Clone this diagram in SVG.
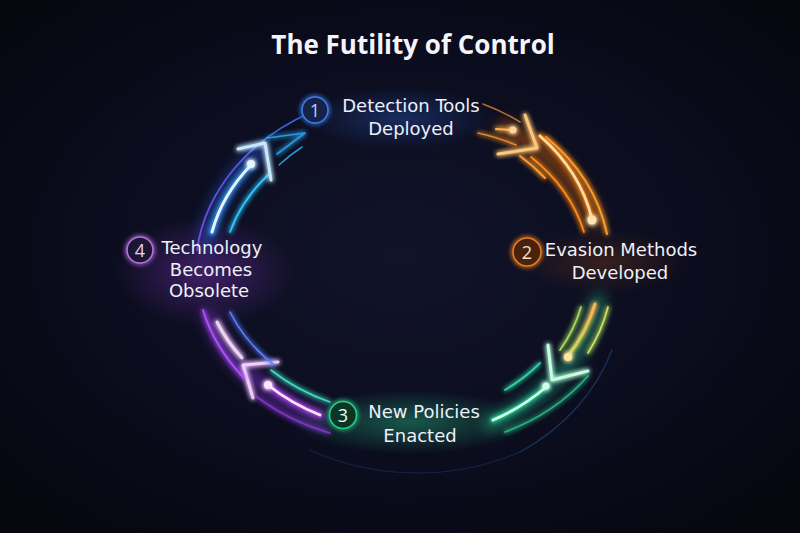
<svg xmlns="http://www.w3.org/2000/svg" width="800" height="533" viewBox="0 0 800 533">
<defs>
<radialGradient id="bg" cx="50%" cy="48%" r="65%">
<stop offset="0" stop-color="#11132a"/><stop offset="0.6" stop-color="#0b0c1d"/><stop offset="1" stop-color="#06070f"/>
</radialGradient>
<radialGradient id="gPurple"><stop offset="0" stop-color="#6a2ea0" stop-opacity="0.55"/><stop offset="1" stop-color="#6a2ea0" stop-opacity="0"/></radialGradient>
<radialGradient id="gGreen"><stop offset="0" stop-color="#1f8a66" stop-opacity="0.6"/><stop offset="1" stop-color="#1f8a66" stop-opacity="0"/></radialGradient>
<radialGradient id="gBlue"><stop offset="0" stop-color="#2450a8" stop-opacity="0.45"/><stop offset="1" stop-color="#2450a8" stop-opacity="0"/></radialGradient>
<radialGradient id="gOrange"><stop offset="0" stop-color="#6a3418" stop-opacity="0.45"/><stop offset="1" stop-color="#6a3418" stop-opacity="0"/></radialGradient>
<linearGradient id="blueOuter" gradientUnits="userSpaceOnUse" x1="197" y1="250" x2="312" y2="112"><stop offset="0" stop-color="#9a4cff"/><stop offset="1" stop-color="#3a7bff"/></linearGradient>
<linearGradient id="yg" gradientUnits="userSpaceOnUse" x1="595" y1="300" x2="560" y2="360"><stop offset="0" stop-color="#ffb050"/><stop offset="1" stop-color="#b8e060"/></linearGradient>
<filter id="glow" filterUnits="userSpaceOnUse" x="0" y="0" width="800" height="533">
<feGaussianBlur in="SourceGraphic" stdDeviation="2.5" result="b"/>
<feMerge><feMergeNode in="b"/><feMergeNode in="b"/><feMergeNode in="SourceGraphic"/></feMerge>
</filter>
<filter id="soft" filterUnits="userSpaceOnUse" x="0" y="0" width="800" height="533">
<feGaussianBlur stdDeviation="7"/>
</filter>
<style>
.ln{fill:none;stroke-linecap:round;stroke-linejoin:round}
.halo{fill:none;stroke-linecap:round;stroke-width:14;opacity:0.45;filter:url(#soft)}
.lbl{font-family:"DejaVu Sans","Liberation Sans",sans-serif;font-size:18px;fill:#eef0f7;text-anchor:middle}
.num{font-family:"Open Sans","Liberation Sans",sans-serif;font-size:18px;font-weight:500;text-anchor:middle}
.title{font-family:"Open Sans","Liberation Sans",sans-serif;font-size:26px;font-weight:700;fill:#f4f5fa;text-anchor:middle}
</style>
</defs>
<rect width="800" height="533" fill="url(#bg)"/>
<ellipse cx="205" cy="272" rx="90" ry="55" fill="url(#gPurple)"/>
<ellipse cx="410" cy="422" rx="120" ry="32" fill="url(#gGreen)"/>
<ellipse cx="400" cy="118" rx="95" ry="32" fill="url(#gBlue)"/>
<ellipse cx="605" cy="262" rx="85" ry="32" fill="url(#gOrange)"/>

<text class="title" x="413" y="54">The Futility of Control</text>

<g id="connectors">
<g id="conn-4-1">
<path class="halo" stroke="#2a6bff" d="M 205 245 A 200 165 0 0 1 262 150"/>
<path class="ln" stroke="url(#blueOuter)" stroke-width="1.8" opacity="0.8" d="M 197 250 A 214 179 0 0 1 312 112"/>
<path class="ln" stroke="#3aa0ff" stroke-width="6" opacity="0.6" filter="url(#glow)" d="M 212 232 A 200 165 0 0 1 251 165"/>
<path class="ln" stroke="#e6f4ff" stroke-width="3" d="M 212 232 A 200 165 0 0 1 251 165"/>
<circle cx="251" cy="164" r="4" fill="#e6f4ff" filter="url(#glow)"/>
<path class="ln" stroke="#33c4ff" stroke-width="1.8" filter="url(#glow)" d="M 230 232 A 188 153 0 0 1 268 175"/>
<polyline class="ln" points="238,149 265,143 271,180" stroke="#c6e8ff" stroke-width="3" filter="url(#glow)"/>
<polyline class="ln" points="267,138 305,133 277,154" stroke="#2fb0ff" stroke-width="1.6" opacity="0.85" filter="url(#glow)"/>
<path class="ln" stroke="#2fb8ff" stroke-width="1.5" opacity="0.8" d="M 279 165 A 185 150 0 0 1 302 147"/>
</g>
<g id="conn-1-2">
<path class="halo" stroke="#ff7a00" d="M 505 128 A 205 170 0 0 1 595 222"/>
<path class="ln" stroke="#ff9a2a" stroke-width="2" filter="url(#glow)" d="M 546 137 A 215 180 0 0 1 607 234"/>
<path class="ln" stroke="#ff8a1a" stroke-width="5" opacity="0.6" filter="url(#glow)" d="M 540 136 A 205 170 0 0 1 592 219"/>
<path class="ln" stroke="#ffdca0" stroke-width="2.8" d="M 540 136 A 205 170 0 0 1 592 219"/>
<circle cx="592" cy="220" r="4.5" fill="#ffe2b0" filter="url(#glow)"/>
<path class="ln" stroke="#ff8a1a" stroke-width="1.8" filter="url(#glow)" d="M 531 157 A 195 160 0 0 1 584 232"/>
<polyline class="ln" points="525,115 537,148 498,154" stroke="#ffc878" stroke-width="3" filter="url(#glow)"/>
<path class="ln" stroke="#ff9a30" stroke-width="1.5" opacity="0.7" d="M 483 104 A 200 165 0 0 1 520 122"/>
<path class="ln" stroke="#ff9a30" stroke-width="1.6" opacity="0.85" filter="url(#glow)" d="M 478 133 A 200 165 0 0 1 516 145"/>
<path class="ln" stroke="#ff9a30" stroke-width="2" filter="url(#glow)" d="M 520 156 A 200 165 0 0 1 545 178"/>
<path class="ln" stroke="#ffb050" stroke-width="2" filter="url(#glow)" d="M 496 129 L 512 130"/>
<circle cx="513" cy="130" r="3.5" fill="#ffd49a" filter="url(#glow)"/>
</g>
<g id="conn-2-3">
<path class="halo" stroke="#2bd49a" d="M 598 300 A 205 170 0 0 1 490 424"/>
<path class="ln" stroke="#c8e060" stroke-width="1.8" filter="url(#glow)" d="M 608 307 A 215 180 0 0 1 588 353"/>
<path class="ln" stroke="url(#yg)" stroke-width="3" filter="url(#glow)" d="M 595 304 A 205 170 0 0 1 568 356"/>
<circle cx="568" cy="357" r="4" fill="#ffe8a0" filter="url(#glow)"/>
<path class="ln" stroke="#a8d860" stroke-width="1.8" filter="url(#glow)" d="M 581 307 A 195 160 0 0 1 560 350"/>
<polyline class="ln" points="548,345 552,380 588,371" stroke="#c0ffe0" stroke-width="3" filter="url(#glow)"/>
<path class="ln" stroke="#2ee0a0" stroke-width="5" opacity="0.6" filter="url(#glow)" d="M 546 387 A 200 165 0 0 1 493 420"/>
<path class="ln" stroke="#d0ffe8" stroke-width="2.8" d="M 546 387 A 200 165 0 0 1 493 420"/>
<circle cx="546" cy="386" r="3.5" fill="#d0ffe8" filter="url(#glow)"/>
<path class="ln" stroke="#30d0a0" stroke-width="1.8" filter="url(#glow)" d="M 540 363 A 190 155 0 0 1 505 390"/>
<path class="ln" stroke="#30c890" stroke-width="1.8" opacity="0.85" filter="url(#glow)" d="M 588 376 A 210 175 0 0 1 505 432"/>
<path class="ln" stroke="#2a6ab0" stroke-width="1.3" opacity="0.4" d="M 612 350 A 225 190 0 0 1 520 452"/>
<path class="ln" stroke="#2a5a9a" stroke-width="1.3" opacity="0.3" d="M 520 452 A 225 190 0 0 1 310 450"/>
</g>
<g id="conn-3-4">
<path class="halo" stroke="#a040ff" d="M 322 418 A 200 165 0 0 1 210 318"/>
<path class="ln" stroke="#c050ff" stroke-width="5" opacity="0.6" filter="url(#glow)" d="M 320 415 A 200 165 0 0 1 268 385"/>
<path class="ln" stroke="#ffe4ff" stroke-width="2.8" d="M 320 415 A 200 165 0 0 1 268 385"/>
<circle cx="268" cy="385" r="4" fill="#ffe4ff" filter="url(#glow)"/>
<path class="ln" stroke="#40d8c0" stroke-width="1.6" filter="url(#glow)" d="M 330 402 A 190 155 0 0 1 271 370"/>
<polyline class="ln" points="278,362 243,365 253,398" stroke="#f2ccff" stroke-width="3" filter="url(#glow)"/>
<path class="ln" stroke="#f0d4f4" stroke-width="3" filter="url(#glow)" d="M 242 358 A 200 165 0 0 1 217 322"/>
<path class="ln" stroke="#b050ff" stroke-width="1.8" filter="url(#glow)" d="M 244 378 A 214 179 0 0 1 203 310"/>
<path class="ln" stroke="#5a80ff" stroke-width="1.6" filter="url(#glow)" d="M 273 364 A 188 153 0 0 1 230 312"/>
<path class="ln" stroke="#9040e0" stroke-width="1.8" opacity="0.8" filter="url(#glow)" d="M 330 433 A 214 179 0 0 1 257 397"/>
</g>
</g>

<g id="node-1">
<circle cx="315" cy="110" r="13" fill="#16204a" stroke="#3d7ae0" stroke-width="1.6" filter="url(#glow)"/>
<text class="num" x="315" y="116.5" fill="#b4d0ff">1</text>
<text class="lbl"><tspan x="411" y="112">Detection Tools</tspan><tspan x="411" y="135">Deployed</tspan></text>
</g>
<g id="node-2">
<circle cx="527" cy="252" r="14" fill="#4a2410" stroke="#e07a28" stroke-width="1.6" filter="url(#glow)"/>
<text class="num" x="527" y="258.5" fill="#ffe0c0">2</text>
<text class="lbl"><tspan x="621" y="256">Evasion Methods</tspan><tspan x="620" y="279">Developed</tspan></text>
</g>
<g id="node-3">
<circle cx="343" cy="415" r="13.5" fill="#0c3628" stroke="#2ec98a" stroke-width="1.6" filter="url(#glow)"/>
<text class="num" x="343" y="421.5" fill="#e8fff4">3</text>
<text class="lbl"><tspan x="424" y="418">New Policies</tspan><tspan x="420" y="442">Enacted</tspan></text>
</g>
<g id="node-4">
<circle cx="140" cy="250" r="13" fill="#1e1232" stroke="#b070e0" stroke-width="1.6" filter="url(#glow)"/>
<text class="num" x="140" y="256.5" fill="#e6d0ff">4</text>
<text class="lbl"><tspan x="212" y="254">Technology</tspan><tspan x="211" y="275.5">Becomes</tspan><tspan x="209" y="297">Obsolete</tspan></text>
</g>
</svg>
